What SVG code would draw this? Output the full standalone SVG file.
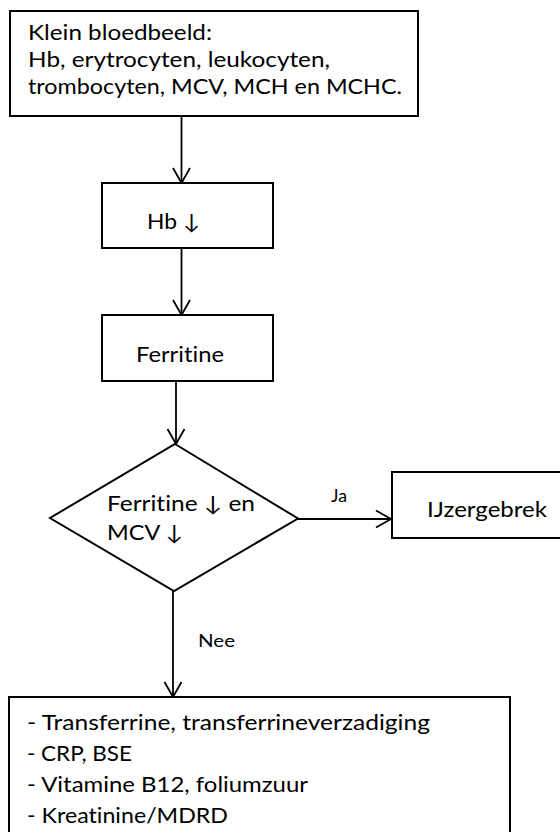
<svg xmlns="http://www.w3.org/2000/svg" width="560" height="832" viewBox="0 0 560 832">
  <style>
    .box { fill: #ffffff; stroke: #000000; stroke-width: 2; }
    .t { font-family: Lato, "Liberation Sans", sans-serif; font-size: 21px; fill: #000000; font-variant-ligatures: none; }
    .lbl { font-family: Lato, "Liberation Sans", sans-serif; font-size: 18px; fill: #000000; font-variant-ligatures: none; }
    .conn { stroke: #000000; stroke-width: 1.8; fill: none; marker-end: url(#arr); }
  </style>
  <defs>
    <marker id="arr" markerUnits="userSpaceOnUse" markerWidth="18" markerHeight="20" refX="16" refY="10" orient="auto" viewBox="0 0 18 20">
      <path d="M1,1.5 L16,10 L1,18.5" fill="none" stroke="#000000" stroke-width="1.8"/>
    </marker>
  </defs>
  <rect width="560" height="832" fill="#ffffff"/>

  <g id="connectors">
    <line class="conn" x1="181.5" y1="116" x2="181.5" y2="183"/>
    <line class="conn" x1="181.5" y1="248" x2="181.5" y2="315"/>
    <line class="conn" x1="176" y1="381" x2="176" y2="444"/>
    <line class="conn" x1="298" y1="519" x2="391" y2="519"/>
    <line class="conn" x1="173" y1="591" x2="173" y2="697"/>
    <text class="lbl" x="331" y="502" textLength="16" lengthAdjust="spacingAndGlyphs">Ja</text>
    <text class="lbl" x="198" y="647" textLength="37" lengthAdjust="spacingAndGlyphs">Nee</text>
  </g>

  <g id="node-bloedbeeld">
    <rect class="box" x="10" y="11" width="408" height="105"/>
    <text class="t" x="28" y="40" textLength="184" lengthAdjust="spacingAndGlyphs">Klein bloedbeeld:</text>
    <text class="t" x="28" y="67" textLength="302" lengthAdjust="spacingAndGlyphs">Hb, erytrocyten, leukocyten,</text>
    <text class="t" x="28" y="94" textLength="374" lengthAdjust="spacingAndGlyphs">trombocyten, MCV, MCH en MCHC.</text>
  </g>

  <g id="node-hb">
    <rect class="box" x="102" y="183" width="171" height="65"/>
    <text class="t" x="147" y="229" textLength="53" lengthAdjust="spacingAndGlyphs">Hb ↓</text>
  </g>

  <g id="node-ferritine">
    <rect class="box" x="102" y="315" width="171" height="66"/>
    <text class="t" x="136" y="362" textLength="88" lengthAdjust="spacingAndGlyphs">Ferritine</text>
  </g>

  <g id="node-beslissing">
    <polygon class="box" points="175,444 298,518.5 174,591 50,518"/>
    <text class="t" x="107" y="511" textLength="148" lengthAdjust="spacingAndGlyphs">Ferritine ↓ en</text>
    <text class="t" x="107" y="540" textLength="76" lengthAdjust="spacingAndGlyphs">MCV ↓</text>
  </g>

  <g id="node-ijzergebrek">
    <rect class="box" x="392" y="472" width="180" height="66"/>
    <text class="t" x="427" y="517" textLength="120" lengthAdjust="spacingAndGlyphs">IJzergebrek</text>
  </g>

  <g id="node-vervolg">
    <rect class="box" x="9" y="697" width="501" height="150"/>
    <text class="t" x="27" y="730" textLength="403" lengthAdjust="spacingAndGlyphs">- Transferrine, transferrineverzadiging</text>
    <text class="t" x="27" y="761" textLength="105" lengthAdjust="spacingAndGlyphs">- CRP, BSE</text>
    <text class="t" x="27" y="792" textLength="281" lengthAdjust="spacingAndGlyphs">- Vitamine B12, foliumzuur</text>
    <text class="t" x="27" y="823" textLength="201" lengthAdjust="spacingAndGlyphs">- Kreatinine/MDRD</text>
  </g>
</svg>
